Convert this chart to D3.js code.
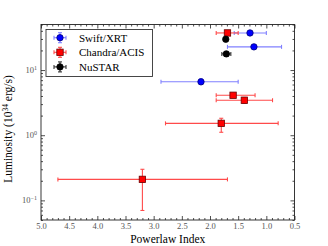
<!DOCTYPE html>
<html>
<head>
<meta charset="utf-8">
<script src="https://cdn.jsdelivr.net/npm/d3@7"></script>
<style>
  body { margin: 0; background: #fff; }
  svg { display: block; font-family: "Liberation Serif", serif; }
  svg text { font-family: "Liberation Serif", serif; }
</style>
</head>
<body>
<svg id="chart" width="328" height="246"></svg>
<script>
// values
const swiftIndex = [1.29, 1.22, 2.16];
const swiftIndexLo = [1.0, 0.73, 1.5];
const swiftIndexHi = [1.57, 1.69, 2.87];
const swiftLum = [37.1, 22.7, 6.6];
const swiftLumLo = [34.5, 21.0, 6.0];
const swiftLumHi = [40.0, 24.5, 7.3];

const chandraIndex = [1.69, 1.59, 1.39, 1.8, 3.2];
const chandraIndexLo = [1.5, 1.2, 0.89, 0.79, 1.69];
const chandraIndexHi = [1.89, 1.89, 1.89, 2.79, 4.7];
const chandraLum = [37.1, 4.1, 3.44, 1.52, 0.21];
const chandraLumLo = [35.0, 3.9, 3.1, 1.11, 0.07];
const chandraLumHi = [39.5, 4.35, 3.8, 1.82, 0.3];

const nustarIndex = [1.72, 1.71];
const nustarIndexLo = [1.69, 1.63];
const nustarIndexHi = [1.75, 1.79];
const nustarLum = [29.7, 17.7];
const nustarLumLo = [28.2, 16.3];
const nustarLumHi = [31.2, 19.2];

const legendLabels = ["Swift/XRT", "Chandra/ACIS", "NuSTAR"];
const xTicks = [5.0, 4.5, 4.0, 3.5, 3.0, 2.5, 2.0, 1.5, 1.0, 0.5];
const yTicks = [0.1, 1, 10];
const yTickExp = ["\u22121", "0", "1"];

const margin = { top: 24.5, right: 33.5, bottom: 26, left: 41 };
const width = 328;
const height = 246;

const svg = d3.select("#chart");

const x = d3.scaleLinear().domain([5.0, 0.5]).range([margin.left, width - margin.right]);
const y = d3.scaleLog().domain([0.05, 50]).range([height - margin.bottom, margin.top]);

const toRows = (idx, lo, hi, lum, llo, lhi) =>
  idx.map((d, i) => ({ x: d, xlo: lo[i], xhi: hi[i], y: lum[i], ylo: llo[i], yhi: lhi[i] }));

const series = [
  { name: legendLabels[0], rows: toRows(swiftIndex, swiftIndexLo, swiftIndexHi, swiftLum, swiftLumLo, swiftLumHi),
    err: "#8080ff", fill: "#0000ff", edge: "#00007a", shape: "circle" },
  { name: legendLabels[1], rows: toRows(chandraIndex, chandraIndexLo, chandraIndexHi, chandraLum, chandraLumLo, chandraLumHi),
    err: "#ff4a4a", fill: "#ff0000", edge: "#6a0000", shape: "square" },
  { name: legendLabels[2], rows: toRows(nustarIndex, nustarIndexLo, nustarIndexHi, nustarLum, nustarLumLo, nustarLumHi),
    err: "#333333", fill: "#000000", edge: "#000000", shape: "circle" },
];

// axes, ticks pointing inward
const bottom = height - margin.bottom;
const right = width - margin.right;
const minorX = d3.range(50, 4, -1).map((d) => d / 10).filter((d) => Math.round(d * 10) % 5 !== 0);
const minorY = [];
[0.01, 0.1, 1, 10].forEach((base) => {
  for (let k = 2; k <= 9; k++) {
    const v = base * k;
    if (v >= 0.05 && v <= 50) minorY.push(v);
  }
});

function axisGroup(axis, tx, ty) {
  const g = svg.append("g").attr("transform", `translate(${tx},${ty})`).call(axis);
  g.attr("font-family", null);
  g.select(".domain").remove();
  g.selectAll("line").attr("stroke", "#222").attr("stroke-width", 0.8);
  return g;
}

const xb = axisGroup(d3.axisBottom(x).tickValues(xTicks).tickSize(-4).tickPadding(3).tickFormat(d3.format(".1f")), 0, bottom);
xb.selectAll("text").attr("font-size", 8.5).attr("fill", "#555");
axisGroup(d3.axisBottom(x).tickValues(minorX).tickSize(-2).tickFormat(""), 0, bottom);
axisGroup(d3.axisTop(x).tickValues(xTicks).tickSize(-4).tickFormat(""), 0, margin.top);
axisGroup(d3.axisTop(x).tickValues(minorX).tickSize(-2).tickFormat(""), 0, margin.top);

axisGroup(d3.axisLeft(y).tickValues(yTicks).tickSize(-4).tickFormat(""), margin.left, 0);
axisGroup(d3.axisLeft(y).tickValues(minorY).tickSize(-2).tickFormat(""), margin.left, 0);
axisGroup(d3.axisRight(y).tickValues(yTicks).tickSize(-4).tickFormat(""), right, 0);
axisGroup(d3.axisRight(y).tickValues(minorY).tickSize(-2).tickFormat(""), right, 0);

// y tick labels with superscripts
yTicks.forEach((v, i) => {
  const t = svg.append("text")
    .attr("x", margin.left - 4)
    .attr("y", y(v) + 3)
    .attr("text-anchor", "end")
    .attr("font-size", 8.5)
    .attr("fill", "#555");
  t.append("tspan").text("10");
  t.append("tspan").attr("dy", -3.5).attr("font-size", 6).text(yTickExp[i]);
});

// frame
svg.append("rect")
  .attr("x", margin.left)
  .attr("y", margin.top)
  .attr("width", right - margin.left)
  .attr("height", bottom - margin.top)
  .attr("fill", "none")
  .attr("stroke", "#222")
  .attr("stroke-width", 0.9);

// axis titles
svg.append("text")
  .attr("x", (margin.left + right) / 2)
  .attr("y", 243)
  .attr("text-anchor", "middle")
  .attr("font-size", 11.5)
  .text("Powerlaw Index");

const ylab = svg.append("text")
  .attr("transform", `translate(12,129) rotate(-90)`)
  .attr("text-anchor", "middle")
  .attr("font-size", 11.5);
ylab.append("tspan").text("Luminosity (10");
ylab.append("tspan").attr("dy", -4).attr("font-size", 7.5).text("34");
ylab.append("tspan").attr("dy", 4).text(" erg/s)");

// error bars and markers
const cap = 2;
function drawMarker(g, s, cx, cy) {
  if (s.shape === "square") {
    g.append("rect")
      .attr("x", cx - 3.2).attr("y", cy - 3.2)
      .attr("width", 6.4).attr("height", 6.4)
      .attr("fill", s.fill).attr("stroke", s.edge).attr("stroke-width", 0.8);
  } else {
    g.append("circle")
      .attr("cx", cx).attr("cy", cy).attr("r", 3.2)
      .attr("fill", s.fill).attr("stroke", s.edge).attr("stroke-width", 0.8);
  }
}

function drawErr(g, s, x1, x2, y0, y1, y2, cx) {
  const e = g.append("g").attr("stroke", s.err).attr("stroke-width", 1.1).attr("fill", "none");
  e.append("line").attr("x1", x1).attr("x2", x2).attr("y1", y0).attr("y2", y0);
  e.append("line").attr("x1", x1).attr("x2", x1).attr("y1", y0 - cap).attr("y2", y0 + cap);
  e.append("line").attr("x1", x2).attr("x2", x2).attr("y1", y0 - cap).attr("y2", y0 + cap);
  e.append("line").attr("x1", cx).attr("x2", cx).attr("y1", y1).attr("y2", y2);
  e.append("line").attr("x1", cx - cap).attr("x2", cx + cap).attr("y1", y1).attr("y2", y1);
  e.append("line").attr("x1", cx - cap).attr("x2", cx + cap).attr("y1", y2).attr("y2", y2);
}

const plot = svg.append("g");
series.forEach((s) => {
  const g = plot.append("g");
  s.rows.forEach((d) => {
    drawErr(g, s, x(d.xhi), x(d.xlo), y(d.y), y(d.yhi), y(d.ylo), x(d.x));
  });
  s.rows.forEach((d) => drawMarker(g, s, x(d.x), y(d.y)));
});

// legend
const legend = svg.append("g");
legend.append("rect")
  .attr("x", 46).attr("y", 29.5)
  .attr("width", 106.5).attr("height", 47)
  .attr("fill", "#fff").attr("stroke", "#333").attr("stroke-width", 0.9);
series.forEach((s, i) => {
  const ly = 37.7 + i * 14.6;
  const g = legend.append("g");
  drawErr(g, s, 54, 66, ly, ly - 5, ly + 5, 60);
  drawMarker(g, s, 60, ly);
  g.append("text")
    .attr("x", 79).attr("y", ly + 3.8)
    .attr("font-size", 11)
    .text(s.name);
});
</script>
</body>
</html>
